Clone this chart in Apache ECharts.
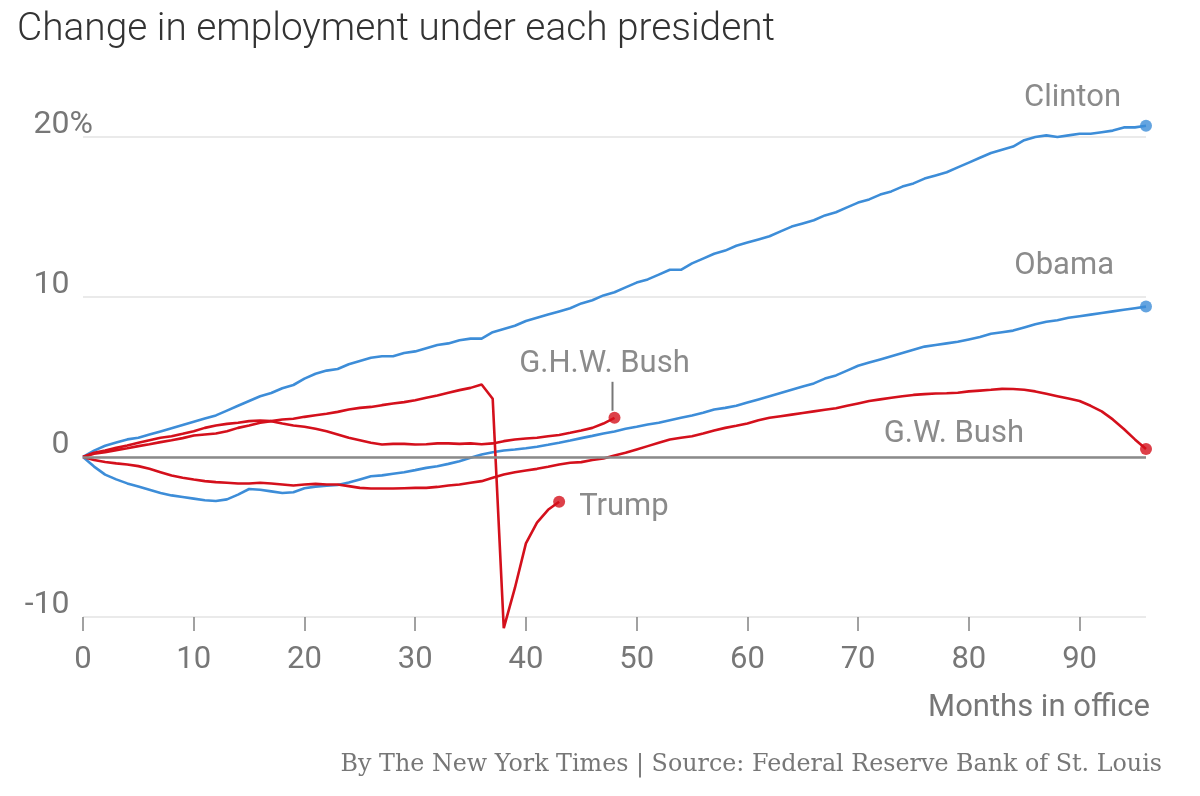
<!DOCTYPE html>
<html>
<head>
<meta charset="utf-8">
<script src="https://cdn.jsdelivr.net/npm/echarts@6/dist/echarts.min.js"></script>
<style>
html,body{margin:0;padding:0;background:#fff;}
#chart{width:1200px;height:796px;}
</style>
</head>
<body>
<div id="chart"></div>
<script>
// Percent change in employment by month in office (index = months in office)
const clinton = [0,0.4,0.7,0.9,1.1,1.2,1.4,1.6,1.8,2.0,2.2,2.4,2.6,2.9,3.2,3.5,3.8,4.0,4.3,4.5,
  4.9,5.2,5.4,5.5,5.8,6.0,6.2,6.3,6.3,6.5,6.6,6.8,7.0,7.1,7.3,7.4,7.4,7.8,8.0,8.2,
  8.5,8.7,8.9,9.1,9.3,9.6,9.8,10.1,10.3,10.6,10.9,11.1,11.4,11.7,11.7,12.1,12.4,12.7,12.9,13.2,
  13.4,13.6,13.8,14.1,14.4,14.6,14.8,15.1,15.3,15.6,15.9,16.1,16.4,16.6,16.9,17.1,17.4,17.6,17.8,18.1,
  18.4,18.7,19.0,19.2,19.4,19.8,20.0,20.1,20.0,20.1,20.2,20.2,20.3,20.4,20.6,20.6,20.7];
const obama = [0,-0.6,-1.1,-1.4,-1.65,-1.85,-2.05,-2.25,-2.4,-2.5,-2.6,-2.7,-2.75,-2.65,-2.35,-2.0,-2.05,-2.15,-2.25,-2.2,
  -1.95,-1.85,-1.8,-1.75,-1.6,-1.4,-1.2,-1.15,-1.05,-0.95,-0.82,-0.68,-0.58,-0.43,-0.26,-0.05,0.16,0.3,0.41,0.47,
  0.55,0.64,0.76,0.89,1.03,1.18,1.32,1.47,1.59,1.76,1.89,2.03,2.14,2.3,2.45,2.6,2.76,2.97,3.07,3.2,
  3.4,3.6,3.8,4.0,4.2,4.4,4.6,4.9,5.1,5.4,5.7,5.9,6.1,6.3,6.5,6.7,6.9,7.0,7.1,7.2,
  7.35,7.5,7.7,7.8,7.9,8.1,8.3,8.45,8.55,8.7,8.8,8.9,9.0,9.1,9.2,9.3,9.4];
const gwBush = [0,-0.19,-0.31,-0.4,-0.47,-0.57,-0.74,-0.95,-1.16,-1.3,-1.41,-1.51,-1.57,-1.61,-1.66,-1.66,-1.61,-1.66,-1.72,-1.78,
  -1.72,-1.68,-1.72,-1.72,-1.82,-1.93,-1.97,-1.97,-1.97,-1.95,-1.93,-1.93,-1.87,-1.78,-1.72,-1.61,-1.51,-1.3,-1.09,-0.95,
  -0.84,-0.74,-0.61,-0.47,-0.36,-0.32,-0.19,-0.09,0.1,0.26,0.47,0.68,0.89,1.09,1.2,1.3,1.47,1.66,1.82,1.95,
  2.1,2.3,2.45,2.55,2.65,2.75,2.85,2.95,3.05,3.2,3.35,3.5,3.6,3.7,3.8,3.88,3.93,3.97,3.98,4.02,
  4.1,4.15,4.2,4.26,4.25,4.2,4.1,3.95,3.8,3.65,3.5,3.2,2.85,2.35,1.75,1.1,0.5];
const ghwBush = [0,0.26,0.41,0.57,0.72,0.89,1.05,1.2,1.3,1.45,1.61,1.82,1.97,2.07,2.14,2.24,2.28,2.24,2.09,1.97,
  1.89,1.76,1.61,1.41,1.2,1.05,0.89,0.78,0.82,0.82,0.78,0.8,0.85,0.85,0.82,0.85,0.8,0.85,0.99,1.09,
  1.16,1.2,1.3,1.38,1.51,1.66,1.82,2.09,2.45];
const trump = [0,0.2,0.3,0.43,0.55,0.68,0.8,0.93,1.05,1.18,1.34,1.41,1.47,1.61,1.82,1.97,2.14,2.24,2.34,2.39,
  2.51,2.61,2.7,2.82,2.97,3.07,3.13,3.24,3.34,3.43,3.55,3.7,3.84,4.01,4.18,4.32,4.53,3.64,-10.7,-8.2,
  -5.4,-4.1,-3.3,-2.8];

const xTicks = [0,10,20,30,40,50,60,70,80,90];
const yTicks = [-10,0,10,20];
const seriesNames = ['Clinton','Obama','G.W. Bush','G.H.W. Bush','Trump'];
const titleText = 'Change in employment under each president';
const sourceText = 'By The New York Times | Source: Federal Reserve Bank of St. Louis';
const xName = 'Months in office';

const BLUE = '#3d8dd8';
const RED = '#d4101c';
const FONT = 'Roboto';
const GRAY = '#777';

const allSeries = [
  {name: seriesNames[0], data: clinton, color: BLUE, z: 3,
   label: {align: 'right', offset: [-25, -28]}},
  {name: seriesNames[1], data: obama, color: BLUE, z: 3,
   label: {align: 'right', offset: [-32, -40]}},
  {name: seriesNames[2], data: gwBush, color: RED, z: 4,
   label: {align: 'right', offset: [-122, -15]}},
  {name: seriesNames[3], data: ghwBush, color: RED, z: 4,
   label: {align: 'center', offset: [-10, -54]}},
  {name: seriesNames[4], data: trump, color: RED, z: 4,
   label: {align: 'left', offset: [20, 5]}}
];

const toPairs = arr => arr.map((v, i) => [i, v]);

const lineSeries = allSeries.map(s => ({
  type: 'line',
  name: s.name,
  data: toPairs(s.data),
  showSymbol: false,
  symbol: 'none',
  clip: false,
  z: s.z,
  lineStyle: {color: s.color, width: 2.6},
  emphasis: {disabled: true},
  silent: true
}));

const endPoints = {
  type: 'scatter',
  z: 6,
  silent: true,
  symbol: 'circle',
  symbolSize: 12,
  clip: false,
  data: allSeries.map(s => ({
    name: s.name,
    value: [s.data.length - 1, s.data[s.data.length - 1]],
    itemStyle: {color: s.color},
    label: Object.assign({
      show: true,
      position: 'inside',
      verticalAlign: 'middle',
      formatter: '{b}',
      fontFamily: FONT,
      fontSize: 31,
      color: '#6e6e6e'
    }, s.label)
  }))
};

const zeroLine = {
  type: 'line',
  data: [],
  z: 2,
  silent: true,
  markLine: {
    silent: true,
    symbol: 'none',
    label: {show: false},
    lineStyle: {color: '#8a8a8a', width: 2.6, type: 'solid'},
    emphasis: {disabled: true},
    data: [{yAxis: 0}]
  }
};

const labelRich = {
  n: {fontFamily: FONT, fontSize: 32, color: GRAY, lineHeight: 24},
  p: {fontFamily: FONT, fontSize: 32, color: GRAY, lineHeight: 24},
  h: {fontFamily: FONT, fontSize: 32, color: 'rgba(0,0,0,0)', lineHeight: 24}
};

const option = {
  animation: false,
  backgroundColor: '#fff',
  title: [
    {text: titleText, left: 17, top: 11, padding: 0,
     textStyle: {fontFamily: FONT, fontSize: 38.8, fontWeight: 300, color: '#333'}},
    {text: xName, right: 50, top: 693, padding: 0,
     textStyle: {fontFamily: FONT, fontSize: 31, fontWeight: 'normal', color: GRAY}},
    {text: sourceText, right: 38, top: 753, padding: 0,
     textStyle: {fontFamily: 'DejaVu Serif', fontSize: 23.8, fontWeight: 'normal', color: GRAY}}
  ],
  grid: {left: 83, top: 137, width: 1063, height: 480, containLabel: false},
  xAxis: {
    type: 'value', min: 0, max: 96, interval: 10,
    axisLine: {show: true, onZero: false, lineStyle: {color: 'rgba(0,0,0,0)', width: 1}},
    splitLine: {show: false},
    axisTick: {show: true, inside: false, length: 14, customValues: xTicks,
               lineStyle: {color: '#8a8a8a', width: 1.6}},
    axisLabel: {customValues: xTicks, margin: 28, fontFamily: FONT, fontSize: 31, color: GRAY}
  },
  yAxis: {
    type: 'value', min: yTicks[0], max: yTicks[yTicks.length - 1], interval: 10,
    axisLine: {show: false},
    axisTick: {show: false},
    splitLine: {show: true, lineStyle: {color: '#e3e3e3', width: 1.5}},
    axisLabel: {
      margin: -10, align: 'right', verticalAlign: 'bottom',
      formatter: v => (v === yTicks[yTicks.length - 1]) ? '{n|' + v + '}{p|%}' : '{n|' + v + '}{h|%}',
      rich: labelRich
    }
  },
  series: [zeroLine].concat(lineSeries, [endPoints])
};

const chart = echarts.init(document.getElementById('chart'));
chart.setOption(option);

// Leader line from the G.H.W. Bush label to its end point
const ghwEnd = chart.convertToPixel({gridIndex: 0}, [ghwBush.length - 1, ghwBush[ghwBush.length - 1]]);
chart.setOption({
  graphic: [{
    type: 'line', silent: true, z: 10,
    shape: {x1: ghwEnd[0] - 2, y1: ghwEnd[1] - 36, x2: ghwEnd[0] - 2, y2: ghwEnd[1] - 7},
    style: {stroke: GRAY, lineWidth: 2}
  }]
});
</script>
</body>
</html>
